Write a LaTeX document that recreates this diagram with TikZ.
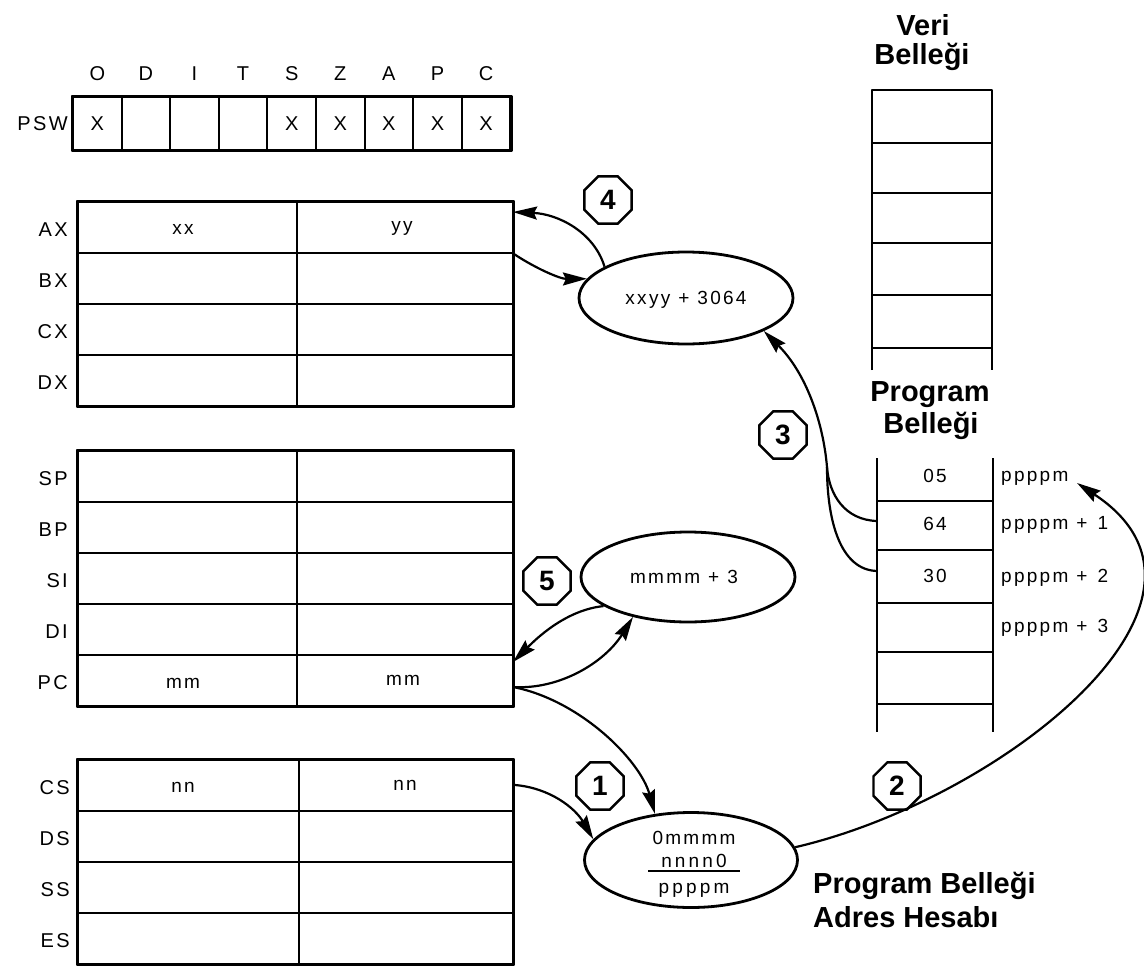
\documentclass[tikz,border=0pt]{standalone}
\usepackage{fontspec}
\setmainfont{Liberation Sans}
\newfontfamily\spaced[LetterSpace=12]{Liberation Sans}
\usetikzlibrary{shapes.geometric,arrows.meta}
\begin{document}
\begin{tikzpicture}[x=1pt,y=-1pt,
  outer/.style={line width=2.8pt, line join=round},
  inner/.style={line width=2pt},
  cell/.style={draw, line width=2pt, inner sep=0pt},
  lab/.style={font=\fontsize{20}{22}\selectfont\spaced, inner sep=0pt},
  val/.style={font=\fontsize{19}{21}\selectfont\spaced, inner sep=0pt},
  ttl/.style={font=\fontsize{29}{33}\selectfont\bfseries, inner sep=0pt, anchor=base},
  oct/.style={regular polygon, regular polygon sides=8, draw, line width=2.4pt,
              minimum size=51pt, inner sep=0pt, font=\fontsize{28}{30}\selectfont\bfseries},
  ell/.style={ellipse, draw, line width=2.8pt, inner sep=0pt},
  arr/.style={line width=2.2pt, -{Stealth[length=24pt,width=13pt,inset=3pt]}},
  con/.style={line width=2.2pt}]
\useasboundingbox (0,0) rectangle (1144,969);

% ---------- PSW ----------
\foreach \i/\f/\v in {0/O/X,1/D/,2/I/,3/T/,4/S/X,5/Z/X,6/A/X,7/P/X,8/C/X}{
  \node[cell, lab, minimum width=48.6pt, minimum height=53pt] (psw\i) at ({73+48.6*\i+24.3},123.5) {\v};
  \node[lab] (flag\i) at ({73+48.6*\i+24.3},74) {\f};
}
\draw[outer] (psw0.north west) rectangle (psw8.south east);
\node[lab, anchor=east] (pswl) at (68,124) {PSW};

% ---------- AX..DX ----------
\foreach \n/\y in {AX/227.5,BX/278.5,CX/329.5,DX/380.5}{
  \node[cell, minimum width=435pt, minimum height=51pt] (\n) at (295.5,\y) {};
  \node[lab, anchor=east] (l\n) at (68,\y+2) {\n};
}
\draw[outer] (AX.north west) rectangle (DX.south east);
\draw[inner] (AX.north -| 297,0) -- (DX.south -| 297,0);
\node[val] (xx) at (183,229) {xx};
\node[val] (yy) at (402,228) {yy};

% ---------- SP..PC ----------
\foreach \n/\y in {SP/476.5,BP/527.5,SI/578.5,DI/629.5,PC/680.5}{
  \node[cell, minimum width=435pt, minimum height=51pt] (\n) at (295.5,\y) {};
  \node[lab, anchor=east] (l\n) at (68,\y+2) {\n};
}
\draw[outer] (SP.north west) rectangle (PC.south east);
\draw[inner] (SP.north -| 297,0) -- (PC.south -| 297,0);
\node[val] (mm1) at (183,683) {mm};
\node[val] (mm2) at (403,680) {mm};

% ---------- CS..ES ----------
\foreach \n/\y in {CS/785.5,DS/836.5,SS/887.5,ES/938.5}{
  \node[cell, minimum width=435pt, minimum height=51pt] (\n) at (295.5,\y) {};
  \node[lab, anchor=east] (l\n) at (70,\y+2) {\n};
}
\draw[outer] (CS.north west) rectangle (ES.south east);
\draw[inner] (CS.north -| 299,0) -- (ES.south -| 299,0);
\node[val] (nn1) at (183,787) {nn};
\node[val] (nn2) at (405,785) {nn};

% ---------- Veri Bellegi ----------
\node[ttl] (veri1) at (923,35) {Veri};
\node[ttl] (veri2) at (922,64) {Belleği};
\draw[outer] (872,370) -- (872,90) -- (992,90) -- (992,370);
\foreach \y in {143,193,243,295,348}{ \draw[inner] (872,\y) -- (992,\y); }

% ---------- Program Bellegi ----------
\node[ttl] (prog1) at (930,401) {Program};
\node[ttl] (prog2) at (931,433) {Belleği};
\draw[outer] (877,458) -- (877,732);
\draw[outer] (993,458) -- (993,732);
\foreach \y in {501,550,603,652,704}{ \draw[inner] (877,\y) -- (993,\y); }
\node[val] (m05) at (935,476) {05};
\node[val] (m64) at (935,524) {64};
\node[val] (m30) at (935,576) {30};
\node[val, anchor=base west] (pa0) at (1001,481) {ppppm};
\node[val, anchor=base west] (pa1) at (1001,529) {ppppm\hspace{8pt}+\hspace{10pt}1};
\node[val, anchor=base west] (pa2) at (1001,582) {ppppm\hspace{8pt}+\hspace{10pt}2};
\node[val, anchor=base west] (pa3) at (1001,632) {ppppm\hspace{8pt}+\hspace{10pt}3};

% ---------- ellipses ----------
\node[ell, minimum width=214pt, minimum height=92pt] (E1) at (686,298) {};
\node[val] (e1t) at (686,300) {xxyy\hspace{8pt}+\hspace{8pt}3064};
\node[ell, minimum width=214pt, minimum height=90pt] (E2) at (688,577) {};
\node[val] (e2t) at (684,577) {mmmm\hspace{8pt}+\hspace{8pt}3};
\node[ell, minimum width=213pt, minimum height=95pt] (E3) at (691,860) {};
\node[val] (e3a) at (694,838) {0mmmm};
\node[val, anchor=base] (e3b) at (694,867) {n\,n\,n\,n\,0};
\draw[inner] (648,871) -- (740,871);
\node[val, anchor=base] (e3c) at (694,893) {p\,p\,p\,p\,m};

\node[ttl, anchor=base west] (pba1) at (813,893) {Program Belleği};
\node[ttl, anchor=base west] (pba2) at (813,927) {Adres Hesabı};

% ---------- octagons ----------
\node[oct] (o4) at (608,200) {4};
\node[oct] (o3) at (783,435) {3};
\node[oct] (o5) at (547,581) {5};
\node[oct] (o1) at (600,786) {1};
\node[oct] (o2) at (897,786) {2};

% ---------- connector points ----------
\coordinate (axr1) at (513,212);
\coordinate (axr2) at (AX.south east);
\coordinate (pcr1) at (513,662);
\coordinate (pcr2) at (513,687);
\coordinate (csr) at (515,785);
\coordinate (p64w) at (877,521);
\coordinate (p30w) at (877,571);
\coordinate (merge) at (827,467);
\coordinate (ptip) at (1077,483);

% ---------- connectors ----------
\draw[arr] (E1.159.7) .. controls (594,232) and (558,214) .. (axr1);
\draw[arr] (axr2) .. controls (535,268) and (560,279) .. (E1.169.8);
\draw[arr] (p64w) .. controls (845,520) and (829,495) .. (merge)
      .. controls (823,420) and (805,372) .. (E1.-23.8);
\draw[con] (p30w) .. controls (840,570) and (827,520) .. (merge);
\draw[arr] (E2.199.4) .. controls (565,610) and (535,640) .. (pcr1);
\draw[arr] (pcr2) .. controls (560,690) and (605,662) .. (E2.216.7);
\draw[arr] (pcr2) .. controls (580,700) and (640,760) .. (E3.128.7);
\draw[arr] (csr) .. controls (550,788) and (575,808) .. (E3.168.8);
\draw[arr] (E3.7) .. controls (1000,800) and (1255,600) .. (ptip);
\end{tikzpicture}
\end{document}
